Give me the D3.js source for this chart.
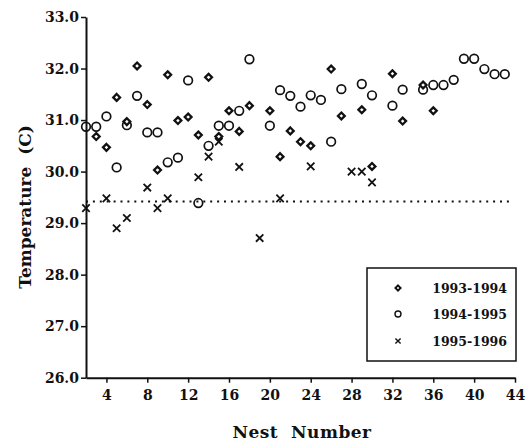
<!DOCTYPE html>
<html>
<head>
<meta charset="utf-8">
<script src="https://cdn.jsdelivr.net/npm/d3@7"></script>
<style>
  body { margin: 0; background: #fff; }
  text { font-family: "DejaVu Serif", serif; font-weight: bold; fill: #111; }
</style>
</head>
<body>
<div id="chart"></div>
<script>
// data
var years = ["1993-1994", "1994-1995", "1995-1996"];

var nest93 = [3, 4, 5, 6, 7, 8, 9, 10, 11, 12, 13, 14, 15, 16, 17, 18, 20, 21, 22, 23, 24, 26, 27, 29, 30, 32, 33, 35, 36];
var temp93 = [30.68, 30.47, 31.44, 30.97, 32.05, 31.30, 30.03, 31.88, 30.99, 31.06, 30.71, 31.83, 30.68, 31.18, 30.78, 31.28, 31.18, 30.29, 30.79, 30.58, 30.50, 31.99, 31.08, 31.20, 30.10, 31.90, 30.98, 31.68, 31.18];

var nest94 = [2, 3, 4, 5, 6, 7, 8, 9, 10, 11, 12, 13, 14, 15, 16, 17, 18, 20, 21, 22, 23, 24, 25, 26, 27, 29, 30, 32, 33, 35, 36, 37, 38, 39, 40, 41, 42, 43];
var temp94 = [30.87, 30.87, 31.07, 30.08, 30.90, 31.47, 30.76, 30.76, 30.18, 30.27, 31.77, 29.39, 30.50, 30.89, 30.89, 31.18, 32.18, 30.89, 31.58, 31.47, 31.26, 31.48, 31.39, 30.58, 31.60, 31.70, 31.48, 31.28, 31.59, 31.59, 31.68, 31.68, 31.78, 32.19, 32.19, 31.99, 31.89, 31.89];

var nest95 = [2, 4, 5, 6, 8, 9, 10, 13, 14, 15, 17, 19, 21, 24, 28, 29, 30];
var temp95 = [29.29, 29.48, 28.90, 29.10, 29.69, 29.29, 29.48, 29.89, 30.29, 30.58, 30.09, 28.71, 29.48, 30.10, 30.00, 30.00, 29.79];

var refLine = 29.42;
var yTicks = [26, 27, 28, 29, 30, 31, 32, 33];
var xTicks = [4, 8, 12, 16, 20, 24, 28, 32, 36, 40, 44];

var width = 527, height = 445;

var svg = d3.select("#chart").append("svg")
    .attr("width", width)
    .attr("height", height);

var x = d3.scaleLinear().domain([2, 44]).range([86, 515]);
var y = d3.scaleLinear().domain([26, 33]).range([377.7, 17]);

function zip(a, b) {
  return a.map(function(d, i) { return {n: d, t: b[i]}; });
}

// marker drawers
function diamond(g, cx, cy, s, w) {
  g.append("path")
    .attr("d", "M" + cx + "," + (cy - s) + "L" + (cx + s) + "," + cy + "L" + cx + "," + (cy + s) + "L" + (cx - s) + "," + cy + "Z")
    .attr("fill", "#fff").attr("stroke", "#111").attr("stroke-width", w);
}
function circle(g, cx, cy, r, w) {
  g.append("circle").attr("cx", cx).attr("cy", cy).attr("r", r)
    .attr("fill", "none").attr("stroke", "#111").attr("stroke-width", w);
}
function cross(g, cx, cy, s, w) {
  g.append("path")
    .attr("d", "M" + (cx - s) + "," + (cy - s) + "L" + (cx + s) + "," + (cy + s) + "M" + (cx - s) + "," + (cy + s) + "L" + (cx + s) + "," + (cy - s))
    .attr("stroke", "#111").attr("stroke-width", w).attr("fill", "none");
}

// axes
svg.append("g")
  .attr("transform", "translate(86,0)")
  .call(d3.axisLeft(y).tickValues(yTicks).tickFormat(d3.format(".1f")).tickSize(5).tickSizeOuter(0).tickPadding(2));
svg.append("g")
  .attr("transform", "translate(0,377.7)")
  .call(d3.axisBottom(x).tickValues(xTicks).tickSize(5).tickSizeOuter(0).tickPadding(7));

svg.selectAll(".domain").attr("stroke", "#111").attr("stroke-width", 2);
svg.selectAll(".tick line").attr("stroke", "#111").attr("stroke-width", 1.5);
svg.selectAll(".tick text").style("font-size", "14px").attr("fill", "#111");

// axis titles
svg.append("text")
  .attr("x", 302).attr("y", 438)
  .attr("text-anchor", "middle")
  .style("font-size", "17px")
  .style("letter-spacing", "0.5px")
  .text("Nest\u00a0\u00a0Number");

svg.append("text")
  .attr("transform", "translate(31,207) rotate(-90)")
  .attr("text-anchor", "middle")
  .style("font-size", "17px")
  .text("Temperature\u00a0\u00a0(C)");

// dotted reference line
svg.append("line")
  .attr("x1", x(2)).attr("x2", x(43.7))
  .attr("y1", y(refLine)).attr("y2", y(refLine))
  .attr("stroke", "#111").attr("stroke-width", 2)
  .attr("stroke-dasharray", "2,4.9");

// points
var pts = svg.append("g");
zip(nest94, temp94).forEach(function(d) { circle(pts, x(d.n), y(d.t), 4.3, 1.7); });
zip(nest93, temp93).forEach(function(d) { diamond(pts, x(d.n), y(d.t), 3.4, 2.3); });
zip(nest95, temp95).forEach(function(d) { cross(pts, x(d.n), y(d.t), 3.7, 1.8); });

// legend
var lg = svg.append("g");
lg.append("rect")
  .attr("x", 367).attr("y", 268).attr("width", 149).attr("height", 93)
  .attr("fill", "#fff").attr("stroke", "#111").attr("stroke-width", 1.5);

var rows = [288, 314, 341];
diamond(lg, 398, rows[0], 2.6, 1.9);
circle(lg, 398, rows[1], 3, 1.4);
cross(lg, 398, rows[2], 2.6, 1.4);
years.forEach(function(yr, i) {
  lg.append("text")
    .attr("x", 507).attr("y", rows[i] + 5)
    .attr("text-anchor", "end")
    .style("font-size", "12.5px")
    .text(yr);
});
</script>
</body>
</html>
